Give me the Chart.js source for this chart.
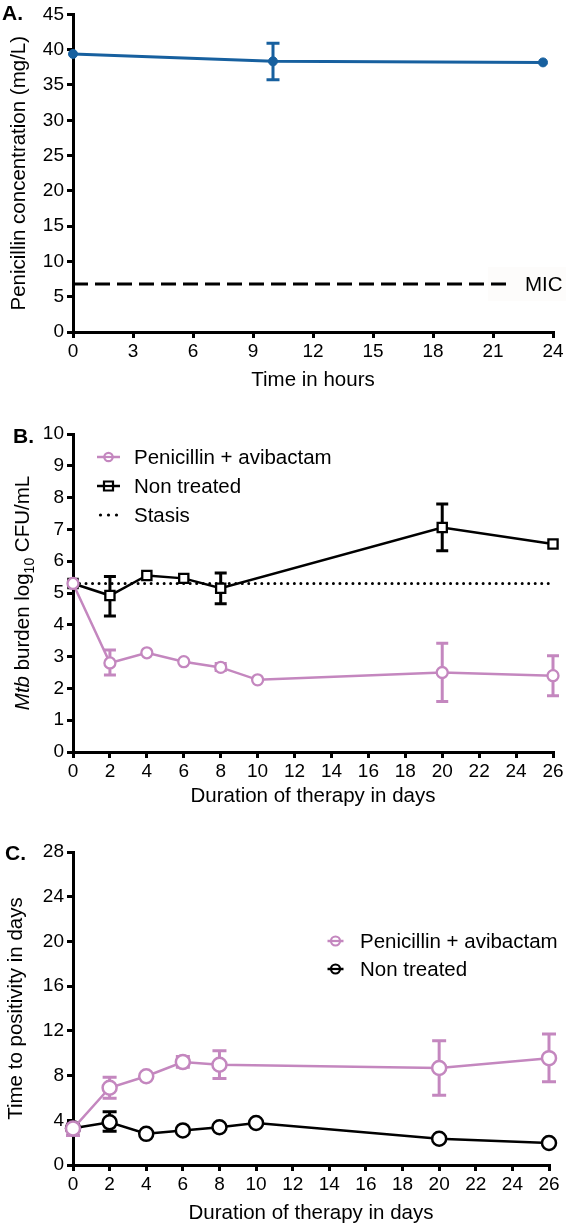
<!DOCTYPE html>
<html><head><meta charset="utf-8">
<script src="https://cdn.jsdelivr.net/npm/chart.js@4.4.0/dist/chart.umd.min.js"></script>
<style>
html,body{margin:0;padding:0;background:#fff;}
body{width:566px;height:1226px;position:relative;overflow:hidden;font-family:'Liberation Sans',Arial,sans-serif;}
.pane{position:absolute;left:0;width:566px;}
canvas{display:block;}
.plabel{position:absolute;font-weight:bold;font-size:21px;line-height:21px;color:#000;}
#ytitleB{position:absolute;left:-138px;top:581px;width:320px;height:24px;line-height:24px;text-align:center;font-size:20.5px;white-space:nowrap;transform:rotate(-90deg);color:#000;}
#ytitleB sub{font-size:14px;line-height:0;}
</style></head><body>
<div class="pane" style="top:0;height:400px"><canvas id="cA" width="566" height="400"></canvas></div>
<div class="pane" style="top:400px;height:420px"><canvas id="cB" width="566" height="420"></canvas></div>
<div class="pane" style="top:820px;height:406px"><canvas id="cC" width="566" height="406"></canvas></div>
<div class="plabel" style="left:2px;top:2px">A.</div>
<div class="plabel" style="left:13px;top:425px">B.</div>
<div class="plabel" style="left:5px;top:842px">C.</div>
<div id="ytitleB"><i>Mtb</i> burden log<sub>10</sub> CFU/mL</div>
<script>
// ---------- Panel A data ----------
const hoursA = [0, 10, 23.5];
const concA = [39.4, 38.35, 38.2];
const concErrLow = [null, 35.75, null];
const concErrHigh = [null, 40.9, null];
const micValue = 6.8;
const micSpan = [0, 22];
const xTicksA = [0, 3, 6, 9, 12, 15, 18, 21, 24];
const yTicksA = [0, 5, 10, 15, 20, 25, 30, 35, 40, 45];

// ---------- Panel B data ----------
const daysPenB = [0, 2, 4, 6, 8, 10, 20, 26];
const penB = [5.30, 2.80, 3.12, 2.84, 2.66, 2.27, 2.50, 2.40];
const penBLow = [null, 2.42, null, null, 2.56, null, 1.59, 1.77];
const penBHigh = [null, 3.21, null, null, 2.78, null, 3.42, 3.03];
const daysNtB = [0, 2, 4, 6, 8, 20, 26];
const ntB = [5.30, 4.92, 5.55, 5.46, 5.15, 7.06, 6.54];
const ntBLow = [null, 4.28, null, null, 4.66, 6.33, null];
const ntBHigh = [null, 5.52, null, null, 5.63, 7.80, null];
const stasisValue = 5.30;
const stasisSpan = [0, 26];
const xTicksB = [0, 2, 4, 6, 8, 10, 12, 14, 16, 18, 20, 22, 24, 26];
const yTicksB = [0, 1, 2, 3, 4, 5, 6, 7, 8, 9, 10];

// ---------- Panel C data ----------
const daysPenC = [0, 2, 4, 6, 8, 20, 26];
const penC = [3.26, 6.91, 7.94, 9.21, 8.97, 8.68, 9.56];
const penCLow = [2.65, 5.97, null, 8.74, 7.74, 6.24, 7.44];
const penCHigh = [3.68, 7.85, null, 9.71, 10.21, 11.12, 11.71];
const daysNtC = [0, 2, 4, 6, 8, 10, 20, 26];
const ntC = [3.29, 3.82, 2.79, 3.09, 3.38, 3.76, 2.35, 1.97];
const ntCLow = [null, 3.03, null, null, null, null, null, null];
const ntCHigh = [null, 4.76, null, null, null, null, null, null];
const xTicksC = [0, 2, 4, 6, 8, 10, 12, 14, 16, 18, 20, 22, 24, 26];
const yTicksC = [0, 4, 8, 12, 16, 20, 24, 28];

const BLUE = '#17609f';
const PINK = '#c487bf';
const BLACK = '#000000';
const FONT = "'Liberation Sans', Arial, sans-serif";

Chart.defaults.font.family = FONT;
Chart.defaults.color = '#000';

const pts = (xs, ys) => xs.map((x, i) => ({x: x, y: ys[i]}));

const errorBars = {
  id: 'errorBars',
  beforeDatasetsDraw(chart) {
    const {ctx} = chart;
    const xs = chart.scales.x, ys = chart.scales.y;
    chart.data.datasets.forEach((ds, i) => {
      if (!ds.errLow) return;
      ctx.save();
      ctx.strokeStyle = ds.borderColor;
      ctx.lineWidth = ds.errWidth || 3;
      ctx.lineCap = 'butt';
      ds.data.forEach((p, j) => {
        const lo = ds.errLow[j], hi = ds.errHigh[j];
        if (lo == null) return;
        const px = xs.getPixelForValue(p.x);
        const pl = ys.getPixelForValue(lo), ph = ys.getPixelForValue(hi);
        const c = ds.capHalf || 6;
        ctx.beginPath();
        ctx.moveTo(px, pl); ctx.lineTo(px, ph);
        ctx.moveTo(px - c, pl); ctx.lineTo(px + c, pl);
        ctx.moveTo(px - c, ph); ctx.lineTo(px + c, ph);
        ctx.stroke();
      });
      ctx.restore();
    });
  }
};

const customLegend = {
  id: 'customLegend',
  afterDraw(chart, args, opts) {
    if (!opts || !opts.items) return;
    const ctx = chart.ctx;
    ctx.save();
    opts.items.forEach((idx, k) => {
      const ds = chart.data.datasets[idx];
      const cy = opts.y + k * opts.gap;
      const cx = opts.x;
      const half = opts.half;
      ctx.strokeStyle = ds.borderColor;
      ctx.fillStyle = ds.borderColor;
      if (ds.legendKind === 'dots') {
        [-8, 0, 8].forEach(d => { ctx.beginPath(); ctx.arc(cx + d, cy, 1.6, 0, Math.PI * 2); ctx.fill(); });
      } else {
        ctx.lineWidth = 2.5;
        ctx.beginPath(); ctx.moveTo(cx - half, cy); ctx.lineTo(cx + half, cy); ctx.stroke();
        ctx.fillStyle = '#fff';
        ctx.lineWidth = 2.2;
        ctx.beginPath();
        if (ds.pointStyle === 'rect') {
          ctx.rect(cx - 4.5, cy - 4.5, 9, 9);
        } else {
          ctx.arc(cx, cy, opts.r, 0, Math.PI * 2);
        }
        ctx.fill(); ctx.stroke();
        ctx.beginPath(); ctx.moveTo(cx - opts.r, cy); ctx.lineTo(cx + opts.r, cy); ctx.stroke();
      }
      ctx.fillStyle = '#000';
      ctx.font = '20.5px ' + FONT;
      ctx.textAlign = 'left';
      ctx.textBaseline = 'middle';
      ctx.fillText(ds.label, opts.textX, cy + 1);
    });
    ctx.restore();
  }
};

const micLabel = {
  id: 'micLabel',
  beforeDatasetsDraw(chart, args, opts) {
    if (!opts || !opts.text) return;
    const ctx = chart.ctx;
    const py = chart.scales.y.getPixelForValue(opts.value);
    ctx.save();
    ctx.fillStyle = '#fdfcfb';
    ctx.fillRect(488, py - 17, 78, 34);
    ctx.restore();
  },
  afterDatasetsDraw(chart, args, opts) {
    if (!opts || !opts.text) return;
    const ctx = chart.ctx;
    const py = chart.scales.y.getPixelForValue(opts.value);
    ctx.save();
    ctx.fillStyle = '#000';
    ctx.font = '20.5px ' + FONT;
    ctx.textAlign = 'left';
    ctx.textBaseline = 'middle';
    ctx.fillText(opts.text, 525, py + 1);
    ctx.restore();
  }
};

function axis(opts) {
  return {
    type: 'linear',
    min: opts.min, max: opts.max,
    afterBuildTicks: (s) => { s.ticks = opts.ticks.map(v => ({value: v})); },
    afterFit: (s) => { if (opts.width != null) s.width = opts.width; if (opts.height != null) s.height = opts.height; },
    grid: {display: true, drawOnChartArea: false, drawTicks: true, tickLength: 6, tickWidth: 3, tickColor: '#000', color: '#000', lineWidth: 3},
    border: {display: true, color: '#000', width: 3},
    ticks: {font: {size: 19}, color: '#000', padding: opts.tpad, maxRotation: 0, autoSkip: false},
    title: {display: true, text: opts.title, font: {size: 20.5}, color: '#000', padding: opts.titlePad}
  };
}

function baseOptions(extra) {
  return Object.assign({
    responsive: false,
    animation: false,
    events: [],
    devicePixelRatio: 1,
    plugins: {legend: {display: false}, tooltip: {enabled: false}}
  }, extra);
}

// ---------- Chart A ----------
new Chart(document.getElementById('cA'), {
  type: 'line',
  data: {datasets: [
    {label: 'Penicillin', data: pts(hoursA, concA), borderColor: BLUE, backgroundColor: BLUE,
     pointBackgroundColor: BLUE, pointBorderColor: BLUE, pointRadius: 4.5, pointBorderWidth: 1,
     borderWidth: 3, clip: false, errLow: concErrLow, errHigh: concErrHigh, capHalf: 6.5, errWidth: 3},
    {label: 'MIC', data: pts(micSpan, micSpan.map(() => micValue)), borderColor: BLACK, borderWidth: 3.2,
     borderDash: [15, 7], pointRadius: 0, clip: false}
  ]},
  options: baseOptions({
    layout: {padding: {left: 0, top: 13, right: 13, bottom: 0}},
    scales: {
      x: axis({min: 0, max: 24, ticks: xTicksA, height: 68, tpad: 2, title: 'Time in hours', titlePad: {top: 0, bottom: 7}}),
      y: axis({min: 0, max: 45, ticks: yTicksA, width: 73, tpad: 3, title: 'Penicillin concentration (mg/L)', titlePad: {top: 7, bottom: 0}})
    },
    plugins: {legend: {display: false}, tooltip: {enabled: false}, micLabel: {text: 'MIC', value: micValue}}
  }),
  plugins: [errorBars, micLabel]
});

// ---------- Chart B ----------
new Chart(document.getElementById('cB'), {
  type: 'line',
  data: {datasets: [
    {label: 'Penicillin + avibactam', data: pts(daysPenB, penB), borderColor: PINK, backgroundColor: '#fff',
     pointBackgroundColor: '#fff', pointBorderColor: PINK, pointRadius: 5.5, pointBorderWidth: 2.3,
     pointStyle: 'circle', borderWidth: 2.5, clip: false, errLow: penBLow, errHigh: penBHigh, capHalf: 6, errWidth: 3},
    {label: 'Non treated', data: pts(daysNtB, ntB), borderColor: BLACK, backgroundColor: '#fff',
     pointBackgroundColor: '#fff', pointBorderColor: BLACK, pointRadius: 6.5, pointBorderWidth: 2.3,
     pointStyle: 'rect', borderWidth: 2.5, clip: false, errLow: ntBLow, errHigh: ntBHigh, capHalf: 6, errWidth: 3},
    {label: 'Stasis', legendKind: 'dots', data: pts(stasisSpan, stasisSpan.map(() => stasisValue)), borderColor: BLACK,
     borderWidth: 3, borderDash: [0.01, 6.5], borderCapStyle: 'round', pointRadius: 0, clip: false}
  ]},
  options: baseOptions({
    layout: {padding: {left: 0, top: 34, right: 13, bottom: 0}},
    scales: {
      x: axis({min: 0, max: 26, ticks: xTicksB, height: 68, tpad: 2, title: 'Duration of therapy in days', titlePad: {top: 0, bottom: 11}}),
      y: axis({min: 0, max: 10, ticks: yTicksB, width: 73, tpad: 3, title: '', titlePad: 0})
    },
    plugins: {legend: {display: false}, tooltip: {enabled: false},
      customLegend: {items: [0, 1, 2], x: 108.5, y: 57, gap: 29, half: 11.5, r: 4.2, textX: 134}}
  }),
  plugins: [errorBars, customLegend]
});

// ---------- Chart C ----------
new Chart(document.getElementById('cC'), {
  type: 'line',
  data: {datasets: [
    {label: 'Penicillin + avibactam', data: pts(daysPenC, penC), borderColor: PINK, backgroundColor: '#fff',
     pointBackgroundColor: '#fff', pointBorderColor: PINK, pointRadius: 7, pointBorderWidth: 2.5,
     borderWidth: 2.5, clip: false, errLow: penCLow, errHigh: penCHigh, capHalf: 7, errWidth: 3},
    {label: 'Non treated', data: pts(daysNtC, ntC), borderColor: BLACK, backgroundColor: '#fff',
     pointBackgroundColor: '#fff', pointBorderColor: BLACK, pointRadius: 7, pointBorderWidth: 2.5,
     borderWidth: 2.5, clip: false, errLow: ntCLow, errHigh: ntCHigh, capHalf: 7, errWidth: 3}
  ]},
  options: baseOptions({
    layout: {padding: {left: 0, top: 32, right: 17, bottom: 0}},
    scales: {
      x: axis({min: 0, max: 26, ticks: xTicksC, height: 61, tpad: 2, title: 'Duration of therapy in days', titlePad: {top: 0, bottom: 0}}),
      y: axis({min: 0, max: 28, ticks: yTicksC, width: 73, tpad: 3, title: 'Time to positivity in days', titlePad: {top: 4, bottom: 0}})
    },
    plugins: {legend: {display: false}, tooltip: {enabled: false},
      customLegend: {items: [0, 1], x: 335.5, y: 121, gap: 28, half: 8, r: 4.5, textX: 360}}
  }),
  plugins: [errorBars, customLegend]
});
</script>
</body></html>
